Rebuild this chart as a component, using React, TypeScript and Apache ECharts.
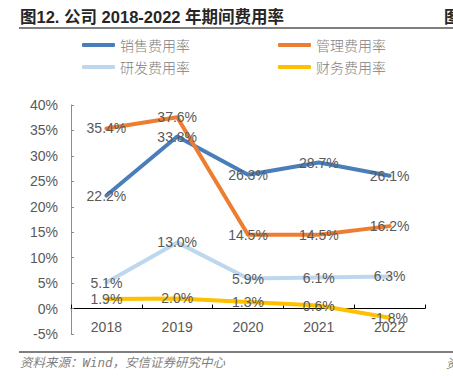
import React, { useEffect, useRef } from "react";
import * as echarts from "echarts";

const years = ["2018", "2019", "2020", "2021", "2022"];
const salesRate = [22.2, 33.8, 26.3, 28.7, 26.1];
const mgmtRate = [35.4, 37.6, 14.5, 14.5, 16.2];
const rdRate = [5.1, 13.0, 5.9, 6.1, 6.3];
const finRate = [1.9, 2.0, 1.3, 0.6, -1.8];
const seriesNames = ["销售费用率", "管理费用率", "研发费用率", "财务费用率"];
const colors = ["#4A7EBB", "#ED7D31", "#BDD7EE", "#FFC000"];
const title = "图12. 公司 2018-2022 年期间费用率";
const source = "资料来源：Wind，安信证券研究中心";

const FONT = "'Liberation Sans', Arial, 'Noto Sans CJK SC', sans-serif";

export default function App() {
  const ref = useRef<HTMLDivElement>(null);
  useEffect(() => {
    if (!ref.current) return;
    const chart = echarts.init(ref.current, undefined, { renderer: "svg" });
    const values = [salesRate, mgmtRate, rdRate, finRate];
    const legendPos = [
      { left: 77, top: 33 },
      { left: 273, top: 33 },
      { left: 77, top: 55 },
      { left: 273, top: 55 },
    ];
    chart.setOption({
      animation: false,
      textStyle: { fontFamily: FONT },
      grid: { left: 71, right: 28, top: 105, bottom: 44, containLabel: false },
      legend: seriesNames.map((n, i) => ({
        data: [n],
        left: legendPos[i].left,
        top: legendPos[i].top,
        icon: "roundRect",
        itemWidth: 33,
        itemHeight: 4,
        textStyle: { fontSize: 14, color: "#808080", fontFamily: "'Noto Sans CJK SC', sans-serif", fontWeight: 300 },
        selectedMode: false,
      })),
      xAxis: {
        type: "category",
        data: years,
        boundaryGap: true,
        axisLine: { onZero: true, lineStyle: { color: "#000000", width: 1 } },
        axisTick: { show: true, inside: true, length: 4, lineStyle: { color: "#000000" } },
        axisLabel: { fontSize: 14, color: "#595959", margin: -14, fontFamily: FONT },
      },
      yAxis: {
        type: "value",
        min: -5,
        max: 40,
        interval: 5,
        axisLine: { show: true, lineStyle: { color: "#8C8C8C" } },
        axisTick: { show: true, inside: true, length: 3, lineStyle: { color: "#8C8C8C" } },
        splitLine: { show: false },
        axisLabel: {
          fontSize: 14,
          color: "#595959",
          margin: 13,
          fontFamily: FONT,
          formatter: (v: number) => v + "%",
        },
      },
      series: seriesNames.map((n, i) => ({
        name: n,
        type: "line",
        data: values[i],
        symbol: "circle",
        symbolSize: 0,
        showSymbol: true,
        lineStyle: { color: colors[i], width: 4, cap: "round", join: "round" },
        itemStyle: { color: colors[i] },
        label: {
          show: true,
          position: "inside",
          fontSize: 14,
          color: "#595959",
          fontFamily: FONT,
          formatter: (p: any) => Number(p.value).toFixed(1) + "%",
        },
      })),
      graphic: [
        {
          type: "text",
          left: 20,
          top: 9,
          style: { text: title, fontSize: 16.5, fontWeight: "bold", fill: "#262626", fontFamily: FONT },
        },
        {
          type: "text",
          left: 444,
          top: 9,
          style: { text: "图", fontSize: 16.5, fontWeight: "bold", fill: "#262626", fontFamily: FONT },
        },
        {
          type: "line",
          shape: { x1: 19, y1: 28, x2: 453, y2: 28 },
          style: { stroke: "#000000", lineWidth: 1.2 },
        },
        {
          type: "line",
          shape: { x1: 19, y1: 352, x2: 453, y2: 352 },
          style: { stroke: "#000000", lineWidth: 1.2 },
        },
        {
          type: "text",
          left: 20,
          top: 356,
          style: {
            text: source,
            fontSize: 12.5,
            fontStyle: "italic",
            fill: "#7F7F7F",
            fontFamily: "'DejaVu Sans Mono', 'Noto Sans CJK SC', monospace",
          },
        },
        {
          type: "text",
          left: 446,
          top: 356,
          style: { text: "资", fontSize: 12.5, fontStyle: "italic", fill: "#7F7F7F", fontFamily: "'Noto Sans CJK SC'" },
        },
      ],
    });
    return () => chart.dispose();
  }, []);
  return (
    <div
      ref={ref}
      style={{ position: "fixed", left: 0, top: 0, width: 453, height: 378, background: "#ffffff" }}
    />
  );
}
